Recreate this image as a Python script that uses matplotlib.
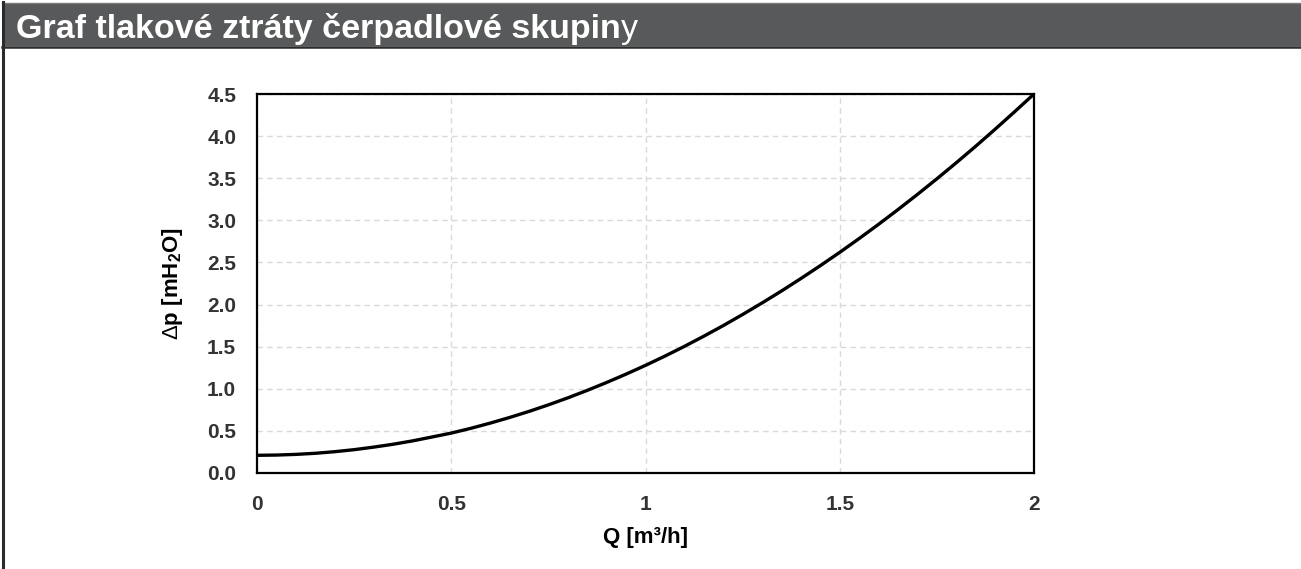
import matplotlib
matplotlib.use("Agg")
import matplotlib.pyplot as plt
from matplotlib.patches import Rectangle
from matplotlib.lines import Line2D

# values
flow = [0.00, 0.05, 0.10, 0.15, 0.20, 0.25, 0.30, 0.35, 0.40, 0.45, 0.50,
        0.55, 0.60, 0.65, 0.70, 0.75, 0.80, 0.85, 0.90, 0.95, 1.00,
        1.05, 1.10, 1.15, 1.20, 1.25, 1.30, 1.35, 1.40, 1.45, 1.50,
        1.55, 1.60, 1.65, 1.70, 1.75, 1.80, 1.85, 1.90, 1.95, 2.00]
dp = [0.21, 0.213, 0.221, 0.234, 0.253, 0.277, 0.307, 0.341, 0.381, 0.427, 0.474,
      0.530, 0.592, 0.659, 0.731, 0.809, 0.892, 0.981, 1.075, 1.174, 1.278,
      1.388, 1.503, 1.624, 1.750, 1.882, 2.019, 2.161, 2.309, 2.462, 2.620,
      2.784, 2.953, 3.128, 3.308, 3.493, 3.684, 3.880, 4.082, 4.289, 4.50]

x_ticks = [0, 0.5, 1, 1.5, 2]
x_labels = ["0", "0.5", "1", "1.5", "2"]
y_ticks = [0.0, 0.5, 1.0, 1.5, 2.0, 2.5, 3.0, 3.5, 4.0, 4.5]

title_bold = "Graf tlakové ztráty čerpadlové skupin"
title_tail = "y"

plt.rcParams['font.family'] = ['Liberation Sans', 'DejaVu Sans']
plt.rcParams['mathtext.fontset'] = 'custom'
plt.rcParams['mathtext.rm'] = 'Liberation Sans:bold'
plt.rcParams['mathtext.bf'] = 'Liberation Sans:bold'
plt.rcParams['mathtext.sf'] = 'Liberation Sans'

W, H = 1301, 569
fig = plt.figure(figsize=(W / 100, H / 100), dpi=100)

# header bar
fig.patches.append(Rectangle((2 / W, 1 - 46 / H), 1 - 2 / W, 43 / H,
                             transform=fig.transFigure, facecolor='#58595b',
                             edgecolor='none', zorder=0))
fig.add_artist(Line2D([2 / W, 1], [1 - 2.5 / H, 1 - 2.5 / H],
                      transform=fig.transFigure, color='#7a7a7a', lw=1))
fig.add_artist(Line2D([2 / W, 1], [1 - 46.5 / H, 1 - 46.5 / H],
                      transform=fig.transFigure, color='#2b2b2b', lw=1.8))
fig.add_artist(Line2D([3 / W, 3 / W], [0, 1 - 2 / H],
                      transform=fig.transFigure, color='#2b2b2b', lw=2.2))

t1 = fig.text(16 / W, 1 - 38 / H, title_bold, color='white', fontsize=24.5,
              fontweight='bold', va='baseline', ha='left')
fig.canvas.draw()
bb = t1.get_window_extent()
fig.text(bb.x1 / W, 1 - 38 / H, title_tail, color='white', fontsize=24.5,
         va='baseline', ha='left')

ax = fig.add_axes([257 / W, 1 - 473 / H, (1034 - 257) / W, (473 - 94) / H])
ax.plot(flow, dp, color='black', lw=2.4, solid_capstyle='round')
ax.set_xlim(0, 2)
ax.set_ylim(0, 4.5)
ax.set_xticks(x_ticks)
ax.set_xticklabels(x_labels)
ax.set_yticks(y_ticks)
ax.set_yticklabels([f"{v:.1f}" for v in y_ticks])
ax.tick_params(length=0, labelsize=15, labelcolor='#333333')
ax.tick_params(axis='x', pad=16)
ax.tick_params(axis='y', pad=15)
for lab in ax.get_xticklabels() + ax.get_yticklabels():
    lab.set_fontweight('bold')
ax.grid(True, color='#d9d9d9', ls=(0, (4, 3)), lw=1)
ax.set_axisbelow(True)
for sp in ax.spines.values():
    sp.set_linewidth(1.6)
    sp.set_color('black')

ax.set_xlabel("Q [m³/h]", fontsize=16, fontweight='bold', labelpad=9)
ax.set_ylabel(r"$\mathsf{\Delta}$p [mH$_2$O]", fontsize=16, fontweight='bold',
              labelpad=16)

plt.savefig("out.png", dpi=100)
